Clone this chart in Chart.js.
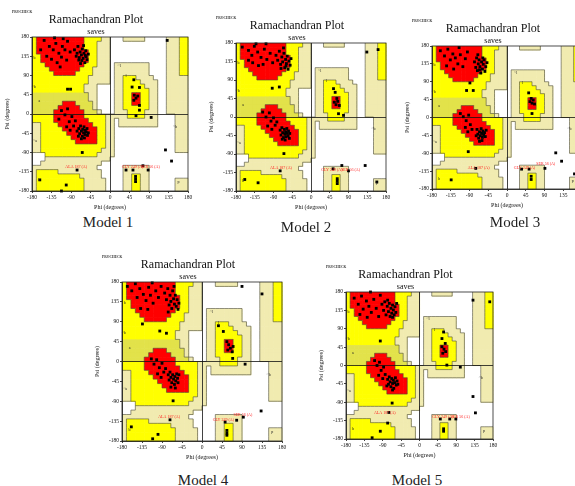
<!DOCTYPE html>
<html>
<head>
<meta charset="utf-8">
<script src="https://cdn.jsdelivr.net/npm/chart.js@4.4.0/dist/chart.umd.min.js"></script>
<style>
  html, body { margin: 0; padding: 0; background: #fff; }
  body { width: 575px; height: 486px; position: relative; overflow: hidden; font-family: "Liberation Serif", "Times New Roman", serif; }
  canvas { position: absolute; }
  .caption { position: absolute; font-size: 15px; color: #222; transform: translate(-50%, -50%); white-space: nowrap; }
</style>
</head>
<body>
<script>
// Ramachandran region map, 10 degree cells.
// row 0 = psi 180..170, column 0 = phi -180..-170
// R core, Y allowed, O allowed (darker print), P generously allowed, . disallowed
const regionRows = [
  "YRRRRRRRRRRRYYYYPP...PPPPP.....PPPYY",
  "YRRRRRRRRRRRYYYPPP.............PPPYY",
  "YRRRRRRRRRRRYYYPPP.............PPPYY",
  "YRRRRRRRRRRRRYYPPP.............PPPYY",
  "YYRRRRRRRRRRRYYPPP.............PPPYY",
  "YYRRRRRRRRRRRYYPPP.............PPPYY",
  "YYYRRRRRRRRRYYYPPP.PPPPPPPP....PPPYY",
  "YYYYRRRRRRRYYYPPPP.PPPPPPPP....PPPYY",
  "YYYYYRRRRRYYYYPPPP.PPPPPPPP....PPPYY",
  "YYYYYYYYYYYYYPPPPP.PPYYYPPPP...PPPPP",
  "YYYYYYYYYYYYYPPPPP.PPYYYYPPPP..PPPPP",
  "YYYYYYYYYYYYPPP....PPYYYYYPPP..PPPPP",
  "YYYYYYYYYYYYPPP....PPYYYYYYPP..PPPPP",
  "OOOOOOOOOOOOOPP....PPYYRRYYPP..PPPPP",
  "OOOOOOOOOOOOOPP....PPYYRRYYPP..PPPPP",
  "OOOOOOORRROOOOP....PPYYRRYYPP..PPPPP",
  "OOOOOORRRRROOOP....PPYYYYYYPP..PPPPP",
  "OOOOORRRRRRROOOP...PPPYYYYPPP..PPPPP",
  "YYYYYRRRRRRRYYYYYPPPPPYYYYPPP....PPP",
  "YYYYYRRRRRRRRYYYYPP.PPPPPPPPP....PPP",
  "PPYYYYRRRRRRRRYYYPP.PPPPPPPPP....PPP",
  "PPYYYYYRRRRRRRRYYPP..............PPP",
  "PPYYYYYYRRRRRRRYYPP..............PPP",
  "PPYYYYYYYRRRRRRYYPP..............PPP",
  "PPYYYYYYYYRRRRRYYPP..............PPP",
  "PPYYYYYYYYYYYYYYYPP..............PPP",
  "PPYYYYYYYYYYYYYYPPP..............PPP",
  "...YYYYYYYYYYYYPPPP.................",
  "...PPPPPPPPPPPPPPP..................",
  "..PPPPPPPPPPPPPP....................",
  "PPPPPPPPPPPPPPP......PPPPPP.........",
  "PYYYYYPPPPPPPPPP.....PPPPPP.........",
  "PYYYYYYYYYYPPPPP.....PPYYPP.........",
  "PYYYYYYYYYYYPPPPP....PPYYPP......PPP",
  "PYYYYYYYYYYYPPPPP....PPYYPP......PPP",
  "PYYYYYYYYYYYPPPPP....PPYYPP......PPP"
];

const phiTicks = [-180, -135, -90, -45, 0, 45, 90, 135, 180];
const psiTicks = [-180, -135, -90, -45, 0, 45, 90, 135, 180];

// small region letters printed by PROCHECK [text, phi, psi]
const regionLetters = [["b", -174, 132], ["a", -163, 30], ["b", -163, -155], ["l", 37, 88], ["~l", 21, 113], ["~b", -176, 64], ["~a", -173, -62], ["p", 158, -160], ["~b", 150, -30]];

// [phi, psi] per residue
const model1 = [
  [-152,172],[-140,158],[-131,150],[-125,165],[-118,142],[-110,158],[-104,150],[-98,170],[-146,135],[-135,128],[-122,120],[-112,133],[-100,126],[-92,145],[-160,150],[-128,178],[-108,176],[-115,110],
  [-82,150],[-78,135],[-74,158],[-72,126],[-69,145],[-66,138],[-64,152],[-62,130],[-60,142],[-58,120],[-56,148],[-55,134],[-53,127],[-50,140],[-68,118],[-76,142],[-61,160],[-71,132],[-57,137],[-65,125],
  [-112,8],[-104,-2],[-98,12],[-118,-12],[-94,-18],[-88,-6],[-84,-28],[-92,-38],[-80,-16],[-100,-30],
  [-76,-40],[-72,-34],[-70,-46],[-68,-28],[-66,-40],[-64,-52],[-63,-36],[-61,-44],[-60,-30],[-58,-48],[-57,-38],[-55,-42],[-53,-34],[-52,-50],[-50,-44],[-66,-58],[-59,-56],[-73,-52],
  [-98,58],[-91,58],[-64,-90],[128,-84],[142,-110],[-76,-131],[-101,-166],[-112,-180],[37,-131],[53,-131],[76,-121],[88,-131],[59,-146],[59,-152],[59,-158],
  [55,80],[51,63],[68,62],[56,44],[60,37],[64,42],[55,32],[68,20],[68,9],[60,-4],[95,-8],[-162,-154],[132,172]
];
const model2 = [
  [-165,170],[-150,162],[-142,150],[-136,172],[-128,158],[-120,145],[-112,165],[-106,140],[-140,132],[-126,125],[-115,128],[-98,155],[-92,132],[-108,178],[-132,178],[-150,138],
  [-84,150],[-80,138],[-76,160],[-73,128],[-70,146],[-68,134],[-65,155],[-63,120],[-61,140],[-59,130],[-57,148],[-55,116],[-53,136],[-50,126],[-48,142],[-72,118],[-66,168],[-60,124],
  [-116,12],[-108,0],[-100,10],[-96,-10],[-90,-2],[-86,-20],[-104,-22],[-82,-12],[-94,-30],
  [-74,-32],[-72,-44],[-70,-26],[-68,-38],[-66,-50],[-64,-30],[-63,-42],[-61,-36],[-60,-48],[-58,-28],[-57,-40],[-55,-46],[-54,-34],[-52,-52],[-51,-40],[-62,-56],[-69,-54],
  [-93,70],[-76,73],[-65,-89],[-74,-131],[-127,-160],[-159,-152],[54,69],[58,60],[62,45],[56,36],[60,30],[64,38],[68,28],[66,8],[78,4],
  [53,-126],[74,-118],[90,-131],[130,-118],[63,-150],[63,-156],[63,-162],[158,-158],[134,158],[161,164]
];
const model3 = [
  [-160,168],[-150,155],[-142,172],[-136,145],[-130,160],[-124,150],[-118,135],[-112,158],[-106,128],[-100,148],[-145,130],[-128,122],[-95,165],[-115,176],
  [-78,140],[-75,126],[-73,150],[-71,118],[-69,135],[-67,145],[-65,128],[-63,112],[-61,140],[-59,122],[-57,134],[-55,145],[-53,116],[-51,128],[-48,138],[-66,120],[-58,150],[-70,158],
  [-89,87],[-97,68],[-81,68],
  [-112,10],[-105,2],[-98,-8],[-92,6],[-88,-18],[-100,-25],[-84,-30],[-94,-36],
  [-72,-30],[-70,-42],[-68,-52],[-66,-36],[-64,-46],[-62,-28],[-61,-40],[-59,-50],[-58,-34],[-56,-44],[-54,-38],[-52,-48],[-50,-32],[-60,-58],[-66,-60],[-74,-46],
  [-93,-86],[-75,-128],[-134,-157],[52,62],[58,48],[55,40],[60,36],[63,44],[66,34],[60,10],[35,-130],[53,-130],[91,-128],[117,-89],[131,-110],[58,-148],[58,-156],[162,-142]
];
const model4 = [
  [-168,170],[-158,160],[-150,176],[-146,145],[-140,165],[-132,152],[-126,138],[-120,168],[-116,150],[-110,132],[-104,160],[-98,145],[-138,120],[-122,118],[-112,178],[-92,170],
  [-84,155],[-80,140],[-77,165],[-74,128],[-72,150],[-70,136],[-68,120],[-66,160],[-64,142],[-62,130],[-60,150],[-58,125],[-56,140],[-54,118],[-52,132],[-76,112],[-63,170],
  [-134,85],[-95,69],[-80,64],
  [-114,6],[-108,-6],[-102,4],[-96,-14],[-90,-4],[-86,-24],[-100,-28],[-92,-36],[-82,-16],
  [-76,-30],[-74,-42],[-72,-24],[-70,-36],[-68,-48],[-66,-30],[-64,-40],[-62,-52],[-61,-34],[-59,-44],[-57,-28],[-55,-38],[-54,-48],[-52,-30],[-70,-58],[-60,-60],
  [-65,-89],[-72,-132],[-111,-175],[-99,-165],[-159,-148],[37,81],[48,68],[56,45],[60,38],[64,30],[58,26],[68,22],[70,34],[69,7],[97,-6],
  [90,170],[135,153],[133,-112],[52,-137],[78,-133],[93,-126],[56,-156],[56,-162],[56,-167]
];
const model5 = [
  [-120,180],[-160,165],[-150,150],[-142,170],[-138,138],[-130,158],[-124,145],[-118,130],[-112,162],[-106,140],[-100,120],[-146,125],[-128,118],[-96,172],
  [-92,150],[-88,135],[-85,156],[-82,124],[-79,145],[-76,132],[-74,152],[-72,120],[-70,140],[-68,128],[-66,148],[-64,136],[-62,124],[-60,144],[-58,130],[-56,152],[-78,160],[-66,118],
  [-96,60],
  [-110,12],[-104,0],[-98,8],[-94,-12],[-88,-4],[-84,-22],[-100,-24],[-90,-32],
  [-78,-34],[-76,-46],[-74,-28],[-72,-40],[-70,-52],[-68,-32],[-66,-44],[-64,-36],[-63,-56],[-61,-42],[-59,-30],[-57,-48],[-55,-38],[-53,-46],[-66,-60],[-80,-50],
  [-67,-92],[-75,-115],[-78,-141],[-96,-161],[-116,-177],[59,82],[55,66],[63,54],[55,46],[60,40],[64,34],[57,30],[67,1],[100,-4],
  [131,-76],[137,-116],[51,-131],[74,-131],[89,-131],[59,-155],[59,-161],[131,160],[172,156]
];

// red residue labels [text, phi, psi]
const model1Labels = [["ALA 187 (A)", -78, -124], ["GLY 249 (A)", 52, -124], ["SER 56 (A)", 93, -124]];
const model2Labels = [["ALA 187 (A)", -72, -124], ["GLY 249 (A)", 50, -130], ["SER 56 (A)", 95, -130]];
const model3Labels = [["ALA 187 (A)", -68, -126], ["GLY 249 (A)", 42, -126], ["SER 56 (A)", 93, -118]];
const model4Labels = [["ALA 187 (A)", -74, -125], ["GLY 249 (A)", 48, -132], ["SER 56 (A)", 92, -120]];
const model5Labels = [["ALA 187 (A)", -85, -115], ["GLY 249 (A)", 57, -125], ["SER 56 (A)", 100, -125]];

const serif = "'Liberation Serif', 'Times New Roman', serif";
const regionColors = { R: '#ff0000', Y: '#ffff00', O: '#e2e24a', P: '#f1ebb0' };
const regionLevel = { '.': 0, P: 1, Y: 2, O: 2, R: 3 };

const ramaPlugin = {
  id: 'rama',
  beforeDraw(chart) {
    const { ctx, scales: { x, y } } = chart;
    ctx.save();
    regionRows.forEach((row, r) => {
      const top = y.getPixelForValue(180 - r * 10);
      const bottom = y.getPixelForValue(170 - r * 10);
      for (let c = 0; c < 36; c++) {
        const code = row[c];
        if (!regionColors[code]) continue;
        const left = x.getPixelForValue(-180 + c * 10);
        const right = x.getPixelForValue(-170 + c * 10);
        ctx.fillStyle = regionColors[code];
        ctx.fillRect(left, top, right - left + 0.6, bottom - top + 0.6);
      }
    });
    // region outlines
    ctx.strokeStyle = '#4a4a3a';
    ctx.lineWidth = 0.6;
    ctx.beginPath();
    regionRows.forEach((row, r) => {
      const top = y.getPixelForValue(180 - r * 10);
      const bottom = y.getPixelForValue(170 - r * 10);
      for (let c = 0; c < 36; c++) {
        const lv = regionLevel[row[c]] || 0;
        const left = x.getPixelForValue(-180 + c * 10);
        const right = x.getPixelForValue(-170 + c * 10);
        if (c < 35 && (regionLevel[row[c + 1]] || 0) !== lv) {
          ctx.moveTo(right, top); ctx.lineTo(right, bottom);
        }
        if (r < 35 && (regionLevel[regionRows[r + 1][c]] || 0) !== lv) {
          ctx.moveTo(left, bottom); ctx.lineTo(right, bottom);
        }
      }
    });
    ctx.stroke();
    ctx.restore();
  },
  afterDatasetsDraw(chart, args, opts) {
    const { ctx, chartArea, scales: { x, y } } = chart;
    ctx.save();
    ctx.textAlign = 'center';
    ctx.textBaseline = 'middle';
    ctx.fillStyle = '#222';
    ctx.font = "4px " + serif;
    regionLetters.forEach(([t, phi, psi]) => ctx.fillText(t, x.getPixelForValue(phi), y.getPixelForValue(psi)));
    ctx.fillStyle = '#ff2020';
    ctx.font = "4px " + serif;
    (opts.labels || []).forEach(([t, phi, psi]) => ctx.fillText(t, x.getPixelForValue(phi), y.getPixelForValue(psi)));
    // frame
    ctx.strokeStyle = '#222';
    ctx.lineWidth = 0.8;
    ctx.strokeRect(chartArea.left, chartArea.top, chartArea.right - chartArea.left, chartArea.bottom - chartArea.top);
    // PROCHECK tag
    ctx.fillStyle = '#333';
    ctx.textAlign = 'left';
    ctx.font = "bold 3.5px " + serif;
    ctx.fillText('PROCHECK', chartArea.left - 20, 3);
    ctx.restore();
  }
};

function axisOptions(title, tickList, size) {
  return {
    type: 'linear',
    min: -180,
    max: 180,
    afterBuildTicks: s => { s.ticks = tickList.map(v => ({ value: v })); },
    afterFit: s => { if (s.isHorizontal()) s.height = size; else s.width = size; },
    ticks: { font: { family: serif, size: 5.5 }, color: '#111', padding: 1, maxRotation: 0, autoSkip: false },
    grid: {
      color: c => (c.tick && c.tick.value === 0 ? '#111' : 'rgba(0,0,0,0)'),
      lineWidth: 0.8,
      tickLength: 2,
      tickColor: '#111'
    },
    border: { display: true, color: '#111', width: 0.8 },
    title: { display: true, text: title, color: '#111', font: { family: serif, size: 6 }, padding: 0 }
  };
}

// plot boxes [left, top, right, bottom] on the page
const panels = [
  { box: [32, 37, 188, 191], points: model1, labels: model1Labels, caption: 'Model 1', at: [108, 222] },
  { box: [236, 43, 386, 191], points: model2, labels: model2Labels, caption: 'Model 2', at: [306, 227] },
  { box: [432, 46, 582, 189], points: model3, labels: model3Labels, caption: 'Model 3', at: [515, 222] },
  { box: [122, 282, 282, 441], points: model4, labels: model4Labels, caption: 'Model 4', at: [203, 480] },
  { box: [346, 292, 493, 439], points: model5, labels: model5Labels, caption: 'Model 5', at: [417, 480] }
];

panels.forEach(p => {
  const [L, T, R, B] = p.box;
  const canvas = document.createElement('canvas');
  canvas.width = R - L + 56;
  canvas.height = B - T + 48;
  canvas.style.left = (L - 28) + 'px';
  canvas.style.top = (T - 28) + 'px';
  document.body.appendChild(canvas);

  const cap = document.createElement('div');
  cap.className = 'caption';
  cap.textContent = p.caption;
  cap.style.left = p.at[0] + 'px';
  cap.style.top = p.at[1] + 'px';
  document.body.appendChild(cap);

  new Chart(canvas, {
    type: 'scatter',
    data: {
      datasets: [{
        data: p.points.map(([phi, psi]) => ({ x: phi, y: psi })),
        pointStyle: 'rect',
        pointRadius: 2,
        backgroundColor: '#000',
        borderWidth: 0
      }]
    },
    options: {
      responsive: false,
      animation: false,
      events: [],
      clip: false,
      layout: { padding: { top: 4, left: 0, right: 28, bottom: 0 } },
      plugins: {
        legend: { display: false },
        tooltip: { enabled: false },
        title: { display: true, text: 'Ramachandran Plot', color: '#111', font: { family: serif, size: 12, weight: 'normal' }, padding: 0 },
        subtitle: { display: true, text: 'saves', color: '#111', font: { family: serif, size: 8 }, padding: 0 },
        rama: { labels: p.labels }
      },
      scales: {
        x: axisOptions('Phi (degrees)', phiTicks, 20),
        y: axisOptions('Psi (degrees)', psiTicks, 28)
      }
    },
    plugins: [ramaPlugin]
  });
});
</script>
</body>
</html>
